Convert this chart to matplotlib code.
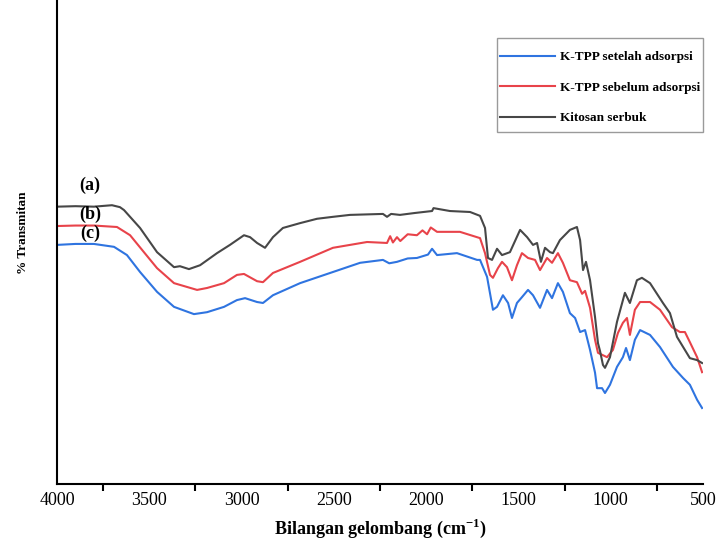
import matplotlib
matplotlib.use('Agg')
import matplotlib.pyplot as plt
from matplotlib.patches import Rectangle
from matplotlib.ticker import MultipleLocator, NullLocator

plt.rcParams['font.family'] = ['Liberation Serif', 'DejaVu Serif']
plt.rcParams['mathtext.fontset'] = 'custom'
plt.rcParams['mathtext.rm'] = 'Liberation Serif:bold'
plt.rcParams['mathtext.bf'] = 'Liberation Serif:bold'

# spectra (wavenumber cm-1, % transmittance)
wn_kitosan = [4000, 3900, 3800, 3702, 3659, 3637, 3550, 3458, 3366, 3334, 3285,
              3225, 3133, 3063, 2987, 2954, 2916, 2873, 2830, 2776, 2683, 2591,
              2505, 2413, 2234, 2212, 2190, 2142, 2060, 1968, 1960, 1871, 1762,
              1708, 1681, 1665, 1643, 1616, 1589, 1546, 1491, 1453, 1421, 1399,
              1378, 1356, 1329, 1313, 1275, 1221, 1183, 1166, 1150, 1134, 1112,
              1085, 1069, 1058, 1042, 1031, 1004, 966, 923, 896, 858, 831, 787,
              717, 679, 641, 571, 532, 505]
t_kitosan = [57.3, 57.4, 57.3, 57.6, 57.2, 56.6, 52.9, 47.9, 44.8, 45.0, 44.4,
             45.2, 47.7, 49.4, 51.4, 51.0, 49.8, 48.8, 51.0, 52.9, 53.9, 54.8,
             55.2, 55.6, 55.8, 55.2, 55.8, 55.6, 56.0, 56.4, 57.0, 56.4, 56.2,
             55.4, 52.9, 46.7, 46.3, 48.6, 47.3, 47.9, 52.5, 51.0, 49.4, 49.8,
             45.9, 48.8, 47.9, 47.7, 50.4, 52.5, 53.1, 50.4, 44.2, 45.9, 42.1,
             34.5, 29.1, 27.5, 24.6, 24.0, 26.2, 33.5, 39.5, 37.4, 42.1, 42.6,
             41.5, 37.4, 35.3, 30.4, 26.0, 25.6, 25.0]

wn_sebelum = [4000, 3900, 3800, 3675, 3604, 3529, 3458, 3366, 3241, 3187, 3095,
              3025, 2987, 2916, 2884, 2830, 2683, 2505, 2320, 2212, 2195, 2180,
              2158, 2140, 2100, 2050, 2020, 1995, 1975, 1941, 1817, 1708, 1681,
              1654, 1638, 1611, 1589, 1562, 1535, 1508, 1481, 1448, 1410, 1383,
              1345, 1318, 1286, 1259, 1221, 1183, 1155, 1139, 1112, 1085, 1069,
              1047, 1020, 988, 961, 934, 912, 896, 869, 841, 787, 733, 668, 625,
              598, 571, 532, 505]
t_sebelum = [53.3, 53.4, 53.4, 53.1, 51.4, 47.9, 44.6, 41.5, 40.1, 40.5, 41.5,
             43.2, 43.4, 41.9, 41.7, 43.6, 45.9, 48.8, 50.0, 49.8, 51.2, 49.9,
             51.0, 50.2, 51.6, 51.4, 52.4, 51.6, 53.0, 52.1, 52.1, 50.8, 47.7,
             43.2, 42.6, 44.6, 45.9, 44.8, 42.1, 45.2, 47.7, 46.7, 46.3, 44.2,
             46.7, 45.7, 47.7, 45.7, 42.1, 41.7, 39.3, 39.9, 36.4, 29.8, 27.1,
             26.7, 26.2, 27.7, 31.2, 33.3, 34.3, 30.8, 36.0, 37.6, 37.6, 36.0,
             32.4, 31.4, 31.4, 29.3, 26.2, 23.1]

wn_setelah = [4000, 3900, 3800, 3691, 3621, 3550, 3458, 3366, 3258, 3187, 3095,
              3025, 2981, 2916, 2884, 2830, 2683, 2505, 2358, 2234, 2200, 2158,
              2100, 2050, 1990, 1968, 1941, 1833, 1724, 1708, 1670, 1638, 1616,
              1584, 1556, 1535, 1508, 1481, 1448, 1421, 1383, 1345, 1318, 1286,
              1259, 1221, 1193, 1166, 1139, 1112, 1085, 1074, 1047, 1031, 1004,
              966, 934, 917, 896, 869, 841, 787, 733, 663, 608, 571, 532, 505]
t_setelah = [49.4, 49.6, 49.6, 49.0, 47.3, 43.8, 39.7, 36.6, 35.1, 35.5, 36.6,
             38.0, 38.4, 37.6, 37.4, 39.0, 41.5, 43.8, 45.7, 46.3, 45.6, 45.9,
             46.6, 46.7, 47.4, 48.6, 47.3, 47.7, 46.3, 46.3, 42.8, 36.0, 36.6,
             39.0, 37.4, 34.3, 37.4, 38.6, 40.1, 39.0, 36.4, 40.1, 38.4, 41.5,
             39.7, 35.3, 34.3, 31.4, 31.8, 27.7, 23.0, 19.8, 19.8, 18.8, 20.5,
             24.2, 26.2, 28.1, 25.6, 29.8, 31.8, 30.8, 28.3, 24.2, 21.9, 20.5,
             17.4, 15.7]

series = [
    (wn_setelah, t_setelah, '#2f74e0', 'K-TPP setelah adsorpsi'),
    (wn_sebelum, t_sebelum, '#e8434a', 'K-TPP sebelum adsorpsi'),
    (wn_kitosan, t_kitosan, '#474747', 'Kitosan serbuk'),
]
tags = ['(a)', '(b)', '(c)']
tag_y = [61.8, 55.8, 51.7]

fig = plt.figure(figsize=(7.16, 5.44), dpi=100)
ax = fig.add_axes([57 / 716, 60 / 544, 646 / 716, 484 / 544])

for wn, t, col, lab in series:
    ax.plot(wn, t, color=col, linewidth=1.5, label=lab)

for tag, ty in zip(tags, tag_y):
    ax.text(3820, ty, tag, fontsize=13, fontweight='bold', ha='center', va='center')

ax.set_xlim(4000, 500)
ax.set_ylim(0, 100)
ax.xaxis.set_major_locator(MultipleLocator(500))
ax.xaxis.set_minor_locator(MultipleLocator(250))
ax.yaxis.set_major_locator(NullLocator())
ax.tick_params(axis='x', which='major', length=0, pad=6, labelsize=13)
ax.tick_params(axis='x', which='minor', length=5, width=1.5, direction='out')
for s in ['top', 'right']:
    ax.spines[s].set_visible(False)
for s in ['left', 'bottom']:
    ax.spines[s].set_linewidth(1.5)

ax.set_xlabel('Bilangan gelombang (cm$^{\\mathregular{-1}}$)', fontsize=13,
              fontweight='bold', labelpad=5)
ax.set_ylabel('% Transmitan', fontsize=9.5, fontweight='bold', labelpad=20, y=0.52)

# legend: entries without frame, box drawn separately
leg = ax.legend(loc='upper left', bbox_to_anchor=(500 / 716, 1 - 51 / 544),
                bbox_transform=fig.transFigure, prop={'family': 'Liberation Serif',
                                                       'weight': 'bold', 'size': 9.5},
                frameon=False, handlelength=4.2, labelspacing=1.38,
                borderpad=0, handletextpad=0.38, borderaxespad=0)
fig.patches.append(Rectangle((497 / 716, 1 - 132 / 544), 206 / 716, 94 / 544,
                             transform=fig.transFigure, fill=False,
                             edgecolor='#9a9a9a', linewidth=1.0))

fig.savefig('out.png', dpi=100)
